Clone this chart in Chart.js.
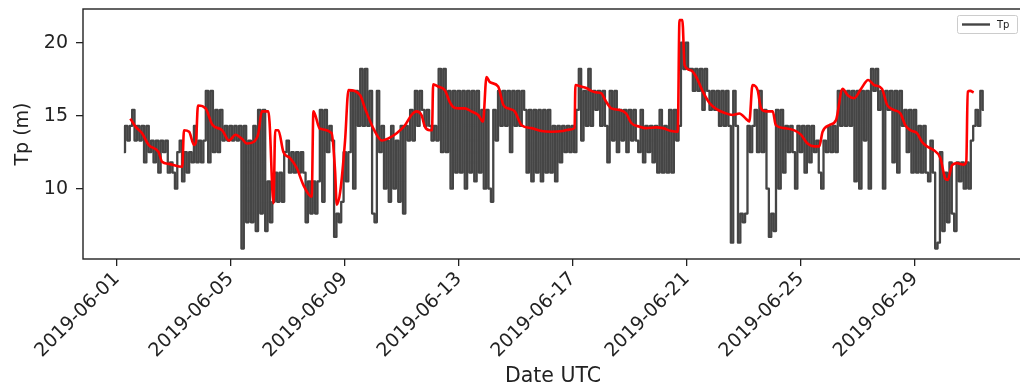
<!DOCTYPE html>
<html>
<head>
<meta charset="utf-8">
<title>Tp</title>
<script src="https://cdn.jsdelivr.net/npm/chart.js@4.4.1/dist/chart.umd.min.js"></script>
<style>
  html, body { margin: 0; padding: 0; background: #fff; overflow: hidden; }
  #wrap { width: 1020px; height: 389px; overflow: hidden; }
</style>
</head>
<body>
<div id="wrap"><canvas id="tpChart" width="1026" height="389"></canvas></div>
<script>
// Datos: tiempo en dias desde 2019-06-01 00:00 UTC
const tpStartDay = 0.25;      // primera muestra 06:00
const tpStepDays = 2 / 24;    // una muestra cada 2 h

// Tp medido (s), una fila por dia
const tpValues = [
  12.5, 14.3, 13.3, 14.3, 15.4, 13.3, 14.3, 13.3, 14.3,
  11.8, 14.3, 12.5, 13.3, 11.8, 13.3, 11.1, 13.3, 12.5, 13.3, 11.1, 11.8,
  11.1, 10.0, 12.5, 13.3, 10.5, 12.5, 11.1, 12.5, 11.8, 14.3, 11.8, 13.3,
  11.8, 13.3, 16.7, 11.8, 16.7, 12.5, 15.4, 12.5, 15.4, 13.3, 14.3, 13.3,
  14.3, 13.3, 14.3, 13.3, 14.3, 5.9, 14.3, 7.7, 13.3, 7.7, 14.3, 7.1,
  15.4, 8.3, 15.4, 7.1, 10.5, 7.7, 9.1, 11.1, 9.1, 11.1, 9.1, 12.5,
  13.3, 11.1, 12.5, 11.1, 12.5, 11.1, 12.5, 11.1, 7.7, 10.5, 8.3, 10.5,
  8.3, 10.5, 15.4, 9.1, 15.4, 12.5, 14.3, 13.3, 6.7, 8.3, 7.7, 9.1,
  12.5, 10.5, 12.5, 16.7, 10.0, 16.7, 14.3, 18.2, 14.3, 18.2, 14.3, 16.7,
  8.3, 7.7, 16.7, 12.5, 14.3, 10.0, 13.3, 9.1, 14.3, 10.0, 13.3, 9.1,
  14.3, 8.3, 14.3, 13.3, 15.4, 13.3, 16.7, 14.3, 16.7, 15.4, 14.3, 15.4,
  14.3, 13.3, 14.3, 13.3, 18.2, 12.5, 18.2, 12.5, 16.7, 10.0, 16.7, 11.1,
  16.7, 11.1, 16.7, 10.0, 16.7, 11.1, 16.7, 10.5, 16.7, 11.1, 15.4, 10.0,
  15.4, 10.0, 9.1, 15.4, 13.3, 16.7, 14.3, 16.7, 14.3, 16.7, 12.5, 16.7,
  14.3, 16.7, 14.3, 16.7, 15.4, 11.1, 15.4, 10.5, 15.4, 11.1, 15.4, 10.5,
  15.4, 11.1, 15.4, 11.1, 14.3, 10.5, 14.3, 11.8, 14.3, 12.5, 14.3, 12.5,
  14.3, 12.5, 15.4, 18.2, 13.3, 16.7, 14.3, 18.2, 14.3, 16.7, 15.4, 16.7,
  14.3, 16.7, 14.3, 11.8, 16.7, 13.3, 16.7, 12.5, 15.4, 13.3, 15.4, 12.5,
  15.4, 13.3, 15.4, 13.3, 12.5, 15.4, 11.8, 14.3, 12.5, 14.3, 11.8, 14.3,
  11.1, 15.4, 11.1, 14.3, 11.1, 15.4, 11.1, 15.4, 13.3, 14.3, 20.0, 18.2,
  20.0, 18.2, 18.2, 16.7, 18.2, 16.7, 18.2, 15.4, 18.2, 16.7, 15.4, 16.7,
  15.4, 16.7, 14.3, 16.7, 14.3, 16.7, 14.3, 6.3, 16.7, 14.3, 6.3, 8.3,
  7.7, 8.3, 14.3, 12.5, 14.3, 15.4, 12.5, 16.7, 12.5, 15.4, 10.0, 6.7,
  8.3, 7.1, 15.4, 10.0, 15.4, 11.1, 14.3, 12.5, 14.3, 12.5, 10.0, 14.3,
  12.5, 14.3, 11.1, 14.3, 11.8, 14.3, 12.5, 13.3, 11.1, 10.0, 13.3, 12.5,
  14.3, 12.5, 14.3, 12.5, 16.7, 14.3, 16.7, 14.3, 16.7, 14.3, 16.7, 10.5,
  16.7, 10.0, 16.7, 13.3, 16.7, 10.0, 18.2, 16.7, 18.2, 15.4, 16.7, 10.0,
  16.7, 15.4, 16.7, 11.8, 16.7, 11.1, 16.7, 14.3, 15.4, 12.5, 15.4, 11.1,
  15.4, 11.1, 14.3, 11.1, 14.3, 11.1, 10.5, 13.3, 11.1, 5.9, 6.3, 12.5,
  7.1, 11.1, 7.7, 11.8, 8.3, 7.1, 11.8, 10.5, 11.8, 10.0, 11.8, 10.0,
  13.3, 14.3, 15.4, 14.3, 16.7, 15.4
];

// Tp suavizado (linea roja)
const smoothDays = [
  0.48, 0.66, 0.89, 1.12, 1.47, 1.59, 1.83, 2.30, 2.36, 2.54, 2.71, 2.78, 2.85,
  3.12, 3.35, 3.70, 3.94, 4.17, 4.40, 4.56, 4.80, 4.97, 5.09, 5.32, 5.36, 5.50,
  5.56, 5.67, 5.85, 6.08, 6.32, 6.55, 6.84, 6.90, 7.13, 7.54, 7.66, 7.72, 7.84,
  8.01, 8.13, 8.54, 8.71, 9.01, 9.30, 9.53, 9.82, 10.11, 10.34, 10.51, 10.69,
  10.81, 10.98, 11.06, 11.10, 11.27, 11.51, 11.68, 11.80, 11.98, 12.21, 12.44,
  12.68, 12.85, 12.97, 13.09, 13.38, 13.56, 13.73, 13.96, 14.20, 14.55, 14.90,
  15.25, 15.65, 15.88, 16.06, 16.09, 16.29, 16.47, 16.64, 16.82, 16.99, 17.17,
  17.35, 17.64, 17.87, 18.05, 18.34, 18.57, 18.92, 19.16, 19.45, 19.68, 19.74,
  19.84, 19.92, 20.15, 20.33, 20.56, 20.80, 21.04, 21.31, 21.60, 21.84, 22.07,
  22.19, 22.30, 22.48, 22.60, 22.77, 23.01, 23.12, 23.42, 23.77, 24.00, 24.23,
  24.47, 24.64, 24.76, 24.99, 25.23, 25.46, 25.64, 25.87, 26.11, 26.36, 26.57,
  26.84, 27.02, 27.25, 27.49, 27.66, 27.84, 28.07, 28.25, 28.42, 28.65, 28.89,
  29.06, 29.15, 29.30, 29.47, 29.71, 29.80, 29.85, 29.94, 30.06
];
const smoothTp = [
  14.8, 14.25, 13.8, 13.0, 12.5, 11.85, 11.7, 11.5, 14.0, 13.9, 13.0, 13.2, 15.7,
  15.5, 14.4, 14.0, 13.3, 13.7, 13.4, 13.1, 13.2, 13.8, 15.3, 15.3, 14.6, 9.0,
  14.0, 14.0, 12.5, 12.1, 11.4, 10.25, 9.45, 15.3, 14.1, 13.8, 11.2, 8.9, 9.8,
  13.3, 16.75, 16.4, 15.5, 14.1, 13.3, 13.45, 13.8, 14.35, 15.05, 15.3, 15.05,
  14.25, 14.0, 14.0, 17.15, 17.0, 16.75, 15.95, 15.6, 15.5, 15.5, 15.3,
  15.05, 14.6, 17.65, 17.3, 17.0, 15.75, 15.5, 15.3, 14.35, 14.15, 13.95,
  13.9, 13.95, 14.05, 14.15, 17.1, 17.0, 16.9, 16.7, 16.6, 16.55, 15.95,
  15.5, 15.4, 15.15, 14.5, 14.25, 14.15, 14.2, 14.15, 13.95, 13.9, 21.55,
  21.55, 18.45, 18.1, 17.65, 16.65, 15.85, 15.45, 15.2, 15.05, 15.15, 14.8,
  14.6, 17.1, 16.75, 15.5, 15.3, 15.3, 14.35, 14.15, 14.0, 13.7, 13.1,
  12.9, 12.9, 13.9, 14.35, 14.7, 16.85, 16.4, 16.2, 16.85, 17.45, 17.1,
  16.85, 15.75, 15.4, 15.15, 14.35, 14.0, 13.8, 13.2, 12.9, 12.65, 12.1,
  10.7, 10.6, 11.6, 11.75, 11.65, 11.85, 16.65, 16.7, 16.6
];

// Ejes
const xMinDay = -1.182;
const xMaxDay = 31.789;
const xTickStep = 4;
const yMin = 5.185;
const yMax = 22.31;
const yTickStep = 5;

const DAY0 = Date.UTC(2019, 5, 1);
function fechaTick(d) {
    return new Date(DAY0 + d * 86400000).toISOString().slice(0, 10);
}

const FONT = "'DejaVu Sans', sans-serif";
const INK = "#222222";

const puntosTp = tpValues.map((v, i) => ({ x: tpStartDay + i * tpStepDays, y: v }));
const puntosSuave = smoothTp.map((v, i) => ({ x: smoothDays[i], y: v }));

// Marco y leyenda estilo matplotlib
const marcoLeyenda = {
    id: "marcoLeyenda",
    afterDatasetsDraw(chart) {
        const { ctx, chartArea: a } = chart;
        ctx.save();
        ctx.strokeStyle = INK;
        ctx.lineWidth = 1.4;
        ctx.strokeRect(a.left, a.top, a.right - a.left, a.bottom - a.top);

        // leyenda
        const bx = 957.5, by = 15.5, bw = 60, bh = 18;
        ctx.beginPath();
        ctx.roundRect(bx, by, bw, bh, 2);
        ctx.fillStyle = "rgba(255,255,255,0.8)";
        ctx.fill();
        ctx.strokeStyle = "#cccccc";
        ctx.lineWidth = 1;
        ctx.stroke();
        ctx.beginPath();
        ctx.moveTo(962, by + bh / 2);
        ctx.lineTo(990, by + bh / 2);
        ctx.strokeStyle = "#444444";
        ctx.lineWidth = 2.4;
        ctx.stroke();
        ctx.fillStyle = INK;
        ctx.font = "10px " + FONT;
        ctx.textBaseline = "middle";
        ctx.textAlign = "left";
        ctx.fillText("Tp", 997, by + bh / 2 + 0.5);
        ctx.restore();
    }
};

const tpChart = new Chart(document.getElementById("tpChart"), {

    type: "line",

    data: {
        datasets: [
            {
                label: "Tp",
                data: puntosTp,
                borderColor: "#454545",
                borderWidth: 2.3,
                borderJoinStyle: "round",
                pointRadius: 0,
                stepped: "middle",
                order: 2
            },
            {
                label: "Tp suavizado",
                data: puntosSuave,
                borderColor: "#ff0000",
                borderWidth: 2.6,
                borderJoinStyle: "round",
                pointRadius: 0,
                cubicInterpolationMode: "monotone",
                order: 1
            }
        ]
    },

    options: {
        responsive: false,
        animation: false,
        devicePixelRatio: 1,
        layout: { padding: { top: 9, left: 0, right: 3, bottom: 0 } },
        plugins: {
            legend: { display: false },
            tooltip: { enabled: false }
        },
        scales: {
            x: {
                type: "linear",
                min: xMinDay,
                max: xMaxDay,
                afterFit(scale) {
                    scale.height = 130;
                    scale.paddingLeft = 0;
                    scale.paddingRight = 0;
                },
                grid: { drawOnChartArea: false, drawTicks: true, tickLength: 7, color: INK, lineWidth: 1.3 },
                border: { display: false },
                ticks: {
                    stepSize: xTickStep,
                    includeBounds: false,
                    autoSkip: false,
                    minRotation: 45,
                    maxRotation: 45,
                    padding: 2,
                    color: INK,
                    font: { family: FONT, size: 19 },
                    callback: (v) => fechaTick(v)
                },
                title: {
                    display: true,
                    text: "Date UTC",
                    color: INK,
                    font: { family: FONT, size: 20.5 },
                    padding: { top: 0, bottom: 0 }
                }
            },
            y: {
                min: yMin,
                max: yMax,
                afterFit(scale) {
                    scale.width = 83;
                    scale.paddingTop = 0;
                    scale.paddingBottom = 0;
                },
                grid: { drawOnChartArea: false, drawTicks: true, tickLength: 7, color: INK, lineWidth: 1.3 },
                border: { display: false },
                ticks: {
                    stepSize: yTickStep,
                    includeBounds: false,
                    padding: 8,
                    color: INK,
                    font: { family: FONT, size: 19 }
                },
                title: {
                    display: true,
                    text: "Tp (m)",
                    color: INK,
                    font: { family: FONT, size: 19 },
                    padding: { top: 12, bottom: 0 }
                }
            }
        }
    },

    plugins: [marcoLeyenda]
});
</script>
</body>
</html>
